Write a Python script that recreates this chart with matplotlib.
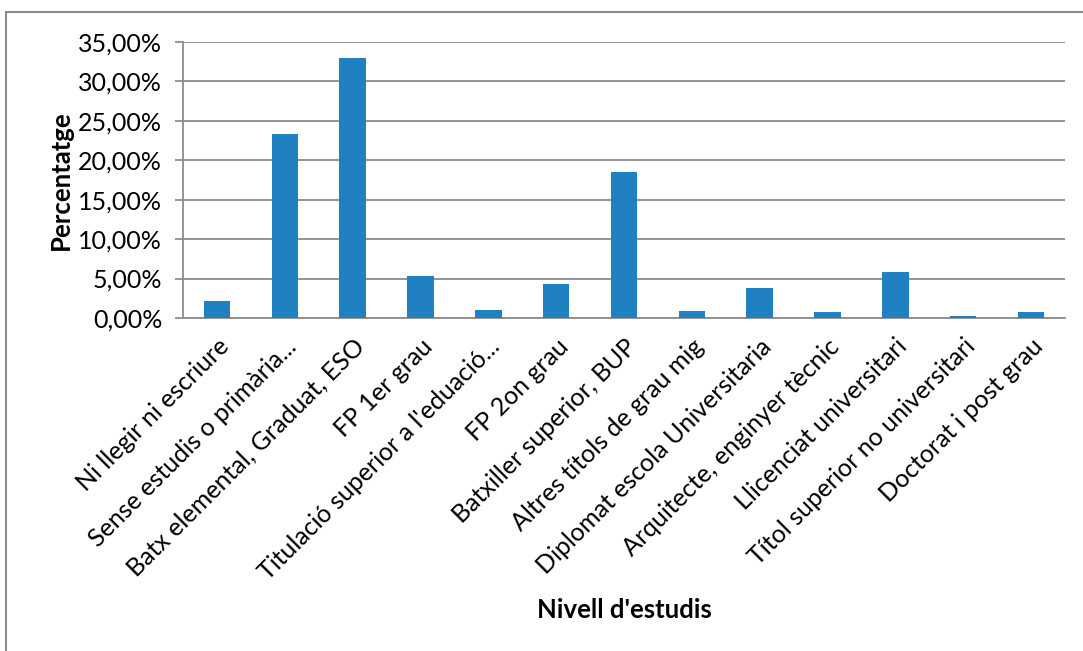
import matplotlib.pyplot as plt
from matplotlib.patches import Rectangle
from matplotlib.ticker import FuncFormatter

plt.rcParams['font.family'] = ['Lato', 'DejaVu Sans']

nivells = ['Ni llegir ni escriure', 'Sense estudis o primària...',
           'Batx elemental, Graduat, ESO', 'FP 1er grau',
           "Titulació superior a l'eduació...", 'FP 2on grau',
           'Batxiller superior, BUP', 'Altres títols de grau mig',
           'Diplomat escola Universitaria', 'Arquitecte, enginyer tècnic',
           'Llicenciat universitari', 'Títol superior no universitari',
           'Doctorat i post grau']
percentatge = [2.1, 23.3, 33.0, 5.3, 1.06, 4.27, 18.5, 0.94, 3.76, 0.73,
               5.86, 0.22, 0.77]
y_ticks = [0, 5, 10, 15, 20, 25, 30, 35]

fig = plt.figure(figsize=(10.83, 6.51), dpi=100)
ax = fig.add_axes([183 / 1083, 1 - 318 / 651, (1065 - 183) / 1083, (318 - 42) / 651])

ax.bar(range(len(percentatge)), percentatge, width=0.39, color='#1f81c1', zorder=3)
ax.set_xlim(-0.5, len(percentatge) - 0.5)
ax.set_ylim(0, 35)
ax.set_yticks(y_ticks)
ax.yaxis.set_major_formatter(FuncFormatter(lambda v, p: f'{v:.2f}%'.replace('.', ',')))
ax.grid(axis='y', color='#8c8c8c', linewidth=1.3, zorder=0)

ax.set_xticks(range(len(nivells)))
ax.set_xticklabels(nivells, rotation=45, ha='right', rotation_mode='anchor', fontsize=18)
ax.tick_params(axis='x', length=0, pad=12)
ax.tick_params(axis='y', length=6, width=1.3, color='#8c8c8c', labelsize=18, pad=9)

for s in ['top', 'right']:
    ax.spines[s].set_visible(False)
for s in ['left', 'bottom']:
    ax.spines[s].set_color('#8c8c8c')
    ax.spines[s].set_linewidth(1.3)

ax.set_ylabel('Percentatge', fontsize=18.5, fontweight='bold', labelpad=4)
fig.text(0.5 * (183 + 1065) / 1083, 1 - 610 / 651, "Nivell d'estudis", fontsize=18.5,
         fontweight='bold', ha='center', va='center')

fig.patches.append(Rectangle((6 / 1083, -0.05), 1.1, 1 - 12 / 651 + 0.05,
                             transform=fig.transFigure, fill=False,
                             edgecolor='#8c8c8c', linewidth=1.5))

fig.savefig('out.png', dpi=100)
